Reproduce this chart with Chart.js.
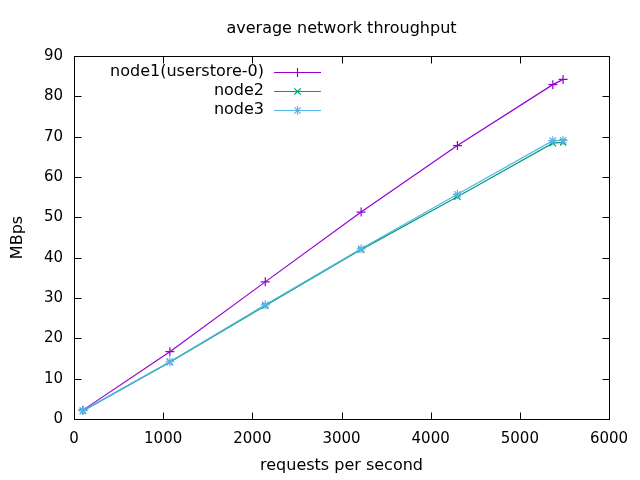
<!DOCTYPE html>
<html>
<head>
<meta charset="utf-8">
<script src="https://cdn.jsdelivr.net/npm/chart.js@4.4.0/dist/chart.umd.min.js"></script>
<style>
  html, body { margin: 0; padding: 0; background: #ffffff; }
  #wrap { width: 640px; height: 480px; position: relative; }
</style>
</head>
<body>
<div id="wrap"><canvas id="c" width="640" height="480"></canvas></div>
<script>
const requestsPerSecond = [100, 1075, 2145, 3220, 4300, 5370, 5485];
const node1 = [2.2, 16.7, 34.0, 51.3, 67.8, 82.9, 84.2];
const node2 = [2.0, 14.1, 28.1, 42.0, 55.1, 68.4, 68.6];
const node3 = [2.1, 14.2, 28.3, 42.2, 55.7, 69.0, 69.1];
const seriesNames = ['node1(userstore-0)', 'node2', 'node3'];
const xTicks = [0, 1000, 2000, 3000, 4000, 5000, 6000];
const yTicks = [0, 10, 20, 30, 40, 50, 60, 70, 80, 90];
const titleText = 'average network throughput';
const xTitle = 'requests per second';
const yTitle = 'MBps';

const FONT = 'DejaVu Sans';
const FS = 15;
const TFS = 16;
const colors = ['#9400d3', '#009e73', '#56b4e9'];
const pstyles = ['cross', 'crossRot', 'star'];

function pts(ys) { return requestsPerSecond.map((x, i) => ({x: x, y: ys[i]})); }

const datasets = [node1, node2, node3].map((d, i) => ({
  label: seriesNames[i],
  data: pts(d),
  order: 2 - i,
  borderColor: colors[i],
  backgroundColor: colors[i],
  borderWidth: 1.2,
  pointStyle: pstyles[i],
  pointRadius: 4.5,
  pointBorderWidth: 1.2,
  pointHoverRadius: 4.5,
  tension: 0,
  fill: false
}));

const framePlugin = {
  id: 'frame',
  afterDraw(chart) {
    const ctx = chart.ctx;
    const a = chart.chartArea;
    const xs = chart.scales.x, ys = chart.scales.y;
    ctx.save();
    ctx.strokeStyle = '#000';
    ctx.lineWidth = 1;
    const L = Math.round(a.left) + 0.5, R = Math.round(a.right) + 0.5;
    const T = Math.round(a.top) + 0.5, B = Math.round(a.bottom) + 0.5;
    ctx.beginPath();
    ctx.rect(L, T, R - L, B - T);
    ctx.stroke();
    const tl = 7;
    ctx.beginPath();
    xTicks.forEach(v => {
      const px = Math.round(xs.getPixelForValue(v)) + 0.5;
      ctx.moveTo(px, B); ctx.lineTo(px, B - tl);
      ctx.moveTo(px, T); ctx.lineTo(px, T + tl);
    });
    yTicks.forEach(v => {
      const py = Math.round(ys.getPixelForValue(v)) + 0.5;
      ctx.moveTo(L, py); ctx.lineTo(L + tl, py);
      ctx.moveTo(R, py); ctx.lineTo(R - tl, py);
    });
    ctx.stroke();

    // texts
    ctx.fillStyle = '#000';
    ctx.font = TFS + 'px "' + FONT + '"';
    ctx.textAlign = 'center';
    ctx.textBaseline = 'middle';
    ctx.fillText(titleText, (a.left + a.right) / 2, 29);
    ctx.fillText(xTitle, (a.left + a.right) / 2, 466);
    ctx.save();
    ctx.translate(18, (a.top + a.bottom) / 2);
    ctx.rotate(-Math.PI / 2);
    ctx.fillText(yTitle, 0, 0);
    ctx.restore();

    // legend
    ctx.textAlign = 'right';
    const rowY = [72, 91, 110];
    chart.data.datasets.forEach((ds, i) => {
      ctx.fillStyle = '#000';
      ctx.fillText(ds.label, 264, rowY[i]);
      ctx.strokeStyle = ds.borderColor;
      ctx.lineWidth = 1.2;
      ctx.beginPath();
      ctx.moveTo(274, rowY[i] + 0.5);
      ctx.lineTo(321, rowY[i] + 0.5);
      ctx.stroke();
      Chart.helpers.drawPoint(ctx, {pointStyle: ds.pointStyle, radius: 4.5, rotation: 0, borderWidth: 1.2}, 297.5, rowY[i] + 0.5);
    });
    ctx.restore();
  }
};

new Chart(document.getElementById('c'), {
  type: 'line',
  data: { datasets: datasets },
  options: {
    responsive: false,
    animation: false,
    devicePixelRatio: 1,
    layout: { padding: { top: 56, right: 31, left: 0, bottom: 0 } },
    plugins: {
      legend: { display: false },
      title: { display: false },
      tooltip: { enabled: false }
    },
    scales: {
      x: {
        type: 'linear',
        min: 0, max: 6000,
        afterFit(s) { s.height = 61; },
        afterBuildTicks(s) { s.ticks = xTicks.map(v => ({value: v})); },
        grid: { display: false, drawTicks: false },
        border: { display: false },
        ticks: { color: '#000', padding: 11, maxRotation: 0, font: { family: FONT, size: FS }, callback: v => String(v) }
      },
      y: {
        type: 'linear',
        min: 0, max: 90,
        afterFit(s) { s.width = 74; },
        afterBuildTicks(s) { s.ticks = yTicks.map(v => ({value: v})); },
        grid: { display: false, drawTicks: false },
        border: { display: false },
        ticks: { color: '#000', padding: 11, font: { family: FONT, size: FS }, callback: v => String(v) }
      }
    }
  },
  plugins: [framePlugin]
});
</script>
</body>
</html>
